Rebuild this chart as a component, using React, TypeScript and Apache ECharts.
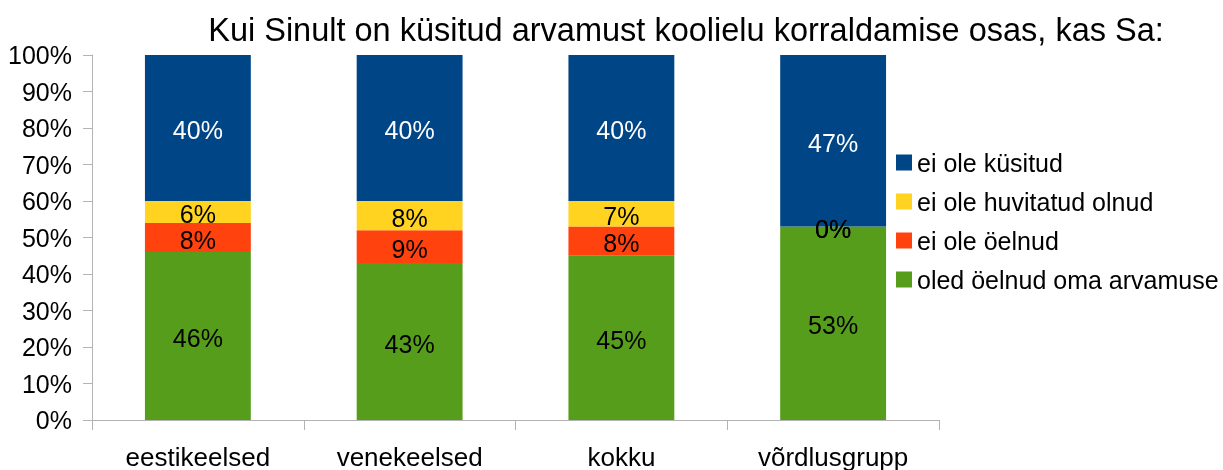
import React, { useEffect, useRef } from "react";
import * as echarts from "echarts";

const categories = ["eestikeelsed", "venekeelsed", "kokku", "võrdlusgrupp"];
const seriesNames = ["oled öelnud oma arvamuse", "ei ole öelnud", "ei ole huvitatud olnud", "ei ole küsitud"];
const greenValues = [46, 43, 45, 53];
const redValues = [8, 9, 8, 0];
const yellowValues = [6, 8, 7, 0];
const blueValues = [40, 40, 40, 47];
const colors = ["#579d1c", "#ff420e", "#ffd320", "#004586"];
const legendOrder = ["ei ole küsitud", "ei ole huvitatud olnud", "ei ole öelnud", "oled öelnud oma arvamuse"];

const FONT = "'Liberation Sans', Arial, sans-serif";

export default function App() {
  const ref = useRef<HTMLDivElement>(null);
  useEffect(() => {
    if (!ref.current) return;
    const chart = echarts.init(ref.current, null, { renderer: "svg" });
    const allValues = [greenValues, redValues, yellowValues, blueValues];
    chart.setOption({
      animation: false,
      textStyle: { fontFamily: FONT },
      title: {
        text: "Kui Sinult on küsitud arvamust koolielu korraldamise osas, kas Sa:",
        left: 681,
        textAlign: "center",
        top: 8,
        textStyle: { fontFamily: FONT, fontSize: 32.5, fontWeight: "normal", color: "#000" },
      },
      legend: {
        orient: "vertical",
        left: 891,
        top: 145,
        itemWidth: 16,
        itemHeight: 16,
        itemGap: 14,
        itemTextGap: 7,
        icon: "rect",
        data: legendOrder,
        textStyle: { fontFamily: FONT, fontSize: 25, color: "#000" },
      },
      grid: { left: 92, right: 284, top: 55, bottom: 45, containLabel: false },
      xAxis: {
        type: "category",
        data: categories,
        axisLine: { lineStyle: { color: "#b3b3b3", width: 1 } },
        axisTick: { show: true, length: 10, lineStyle: { color: "#b3b3b3" } },
        axisLabel: { fontFamily: FONT, fontSize: 26, color: "#000", margin: 24 },
      },
      yAxis: {
        type: "value",
        min: 0,
        max: 100,
        interval: 10,
        axisLine: { show: true, lineStyle: { color: "#b3b3b3", width: 1 } },
        axisTick: { show: true, length: 9, lineStyle: { color: "#b3b3b3" } },
        splitLine: { show: false },
        axisLabel: { fontFamily: FONT, fontSize: 25, color: "#000", margin: 20, formatter: "{value}%" },
      },
      series: seriesNames.map((name, i) => ({
        name,
        type: "bar",
        stack: "total",
        barWidth: "50%",
        data: allValues[i],
        itemStyle: { color: colors[i] },
        label: {
          show: true,
          position: "inside",
          formatter: "{c}%",
          fontFamily: FONT,
          fontSize: 25,
          color: i === 3 ? "#fff" : "#000",
          textBorderWidth: 0,
          offset: [0, 2],
        },
      })),
    });
    return () => chart.dispose();
  }, []);
  return <div ref={ref} style={{ position: "fixed", left: 0, top: 0, width: 1223, height: 470 }} />;
}
